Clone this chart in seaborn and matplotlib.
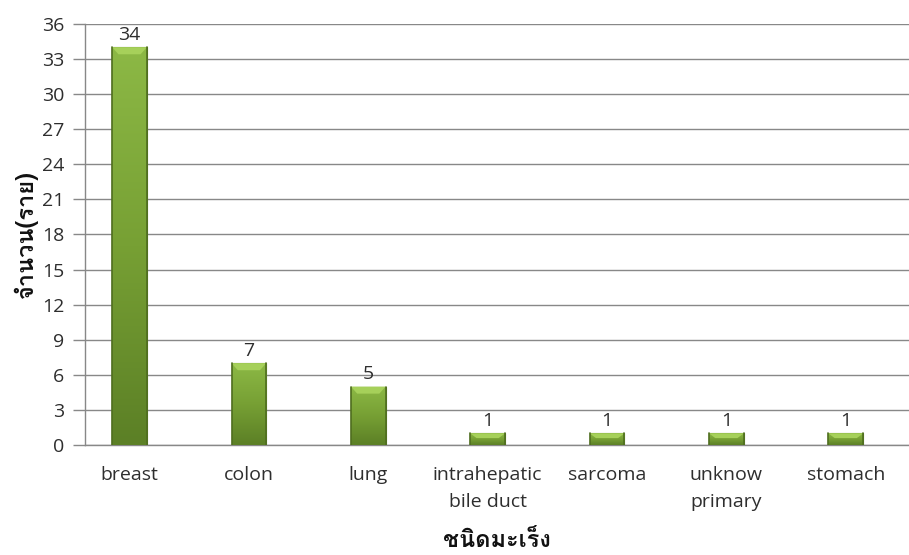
import numpy as np
import pandas as pd
import matplotlib
matplotlib.use("Agg")
import matplotlib.pyplot as plt
import seaborn as sns
from matplotlib import font_manager
from matplotlib.ft2font import FT2Font
from matplotlib.colors import LinearSegmentedColormap

categories = ["breast", "colon", "lung", "intrahepatic\nbile duct", "sarcoma", "unknow\nprimary", "stomach"]
counts = [34, 7, 5, 1, 1, 1, 1]
y_ticks = list(range(0, 37, 3))
x_title = "ชนิดมะเร็ง"
y_title = "จำนวน(ราย)"


def thai_family():
    for f in font_manager.fontManager.ttflist:
        try:
            cmap = FT2Font(f.fname).get_charmap()
        except Exception:
            continue
        if 0x0E0A in cmap and 0x0E19 in cmap:
            return f.name
    return "DejaVu Sans"


sns.set_theme(style="white")
base_font = "Open Sans"
thai_font = thai_family()
plt.rcParams["font.family"] = [base_font, "DejaVu Sans"]
text_col = "#2e2e2e"

df = pd.DataFrame({"type": categories, "n": counts})

fig = plt.figure(figsize=(9.09, 5.55), dpi=100)
ax = fig.add_axes([0.0935, 0.198, 0.9065, 0.759])

sns.barplot(data=df, x="type", y="n", color="#7fa63a", width=0.29,
            edgecolor="#5d7f25", linewidth=0.8, ax=ax, zorder=3)

# vertical green gradient with a lighter bevel on top of every bar
grad = LinearSegmentedColormap.from_list("g", ["#5c8026", "#77a034", "#8cb845"])
for p in ax.patches:
    x0, y0 = p.get_x(), p.get_y()
    w, h = p.get_width(), p.get_height()
    img = np.linspace(0, 1, 64).reshape(-1, 1)
    im = ax.imshow(img, cmap=grad, origin="lower", aspect="auto",
                   extent=[x0, x0 + w, y0, y0 + h], zorder=3.5, interpolation="bicubic")
    im.set_clip_path(p)
    bev = min(0.6, h * 0.4)
    ax.fill([x0, x0 + w, x0 + w * 0.82, x0 + w * 0.18],
            [y0 + h, y0 + h, y0 + h - bev, y0 + h - bev],
            color="#a6d05a", zorder=3.7, lw=0)
    ax.plot([x0, x0], [y0, y0 + h], color="#4f6e1f", lw=1.2, zorder=3.8)
    ax.plot([x0 + w, x0 + w], [y0, y0 + h], color="#4f6e1f", lw=1.2, zorder=3.8)

for i, v in enumerate(counts):
    ax.text(i, v + 0.3, str(v), ha="center", va="bottom", fontsize=14, color=text_col, zorder=5)

ax.set_xlim(-0.373, 6.53)
ax.set_ylim(0, 36)
ax.set_yticks(y_ticks)
ax.set_yticklabels([str(t) for t in y_ticks], fontsize=14, color=text_col)
ax.set_xticks(range(len(categories)))
ax.set_xticklabels(categories, fontsize=14, color=text_col, linespacing=1.65)
ax.tick_params(axis="y", length=9, width=1, color="#888888", pad=6, direction="out", left=True)
ax.tick_params(axis="x", length=0, pad=15)

ax.grid(axis="y", color="#888888", linewidth=1, zorder=0)
ax.set_axisbelow(True)
for s in ["top", "right"]:
    ax.spines[s].set_visible(False)
for s in ["left", "bottom"]:
    ax.spines[s].set_color("#888888")
    ax.spines[s].set_linewidth(1)

ax.set_xlabel(x_title, fontsize=17, fontweight="bold", family=[thai_font, "DejaVu Sans"],
              labelpad=13, color="#111111")
ax.set_ylabel(y_title, fontsize=17, fontweight="bold", family=[thai_font, "DejaVu Sans"],
              labelpad=3, color="#111111")

fig.savefig("out.png", dpi=100)
